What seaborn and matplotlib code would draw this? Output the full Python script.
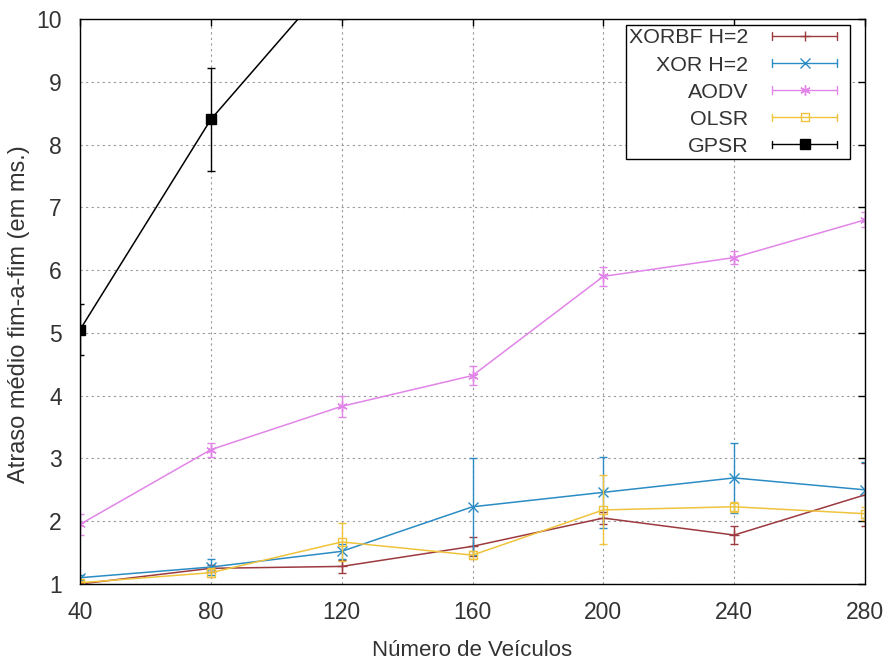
import numpy as np
import pandas as pd
import matplotlib
matplotlib.use("Agg")
import matplotlib.pyplot as plt
from matplotlib.lines import Line2D
from matplotlib.legend_handler import HandlerBase
import seaborn as sns

# Number of vehicles (x axis)
veiculos = [40, 80, 120, 160, 200, 240, 280]

# Mean end-to-end delay (ms) and error-bar half widths per protocol
xorbf = [1.00, 1.25, 1.28, 1.60, 2.05, 1.78, 2.42]
xorbf_err = [0.03, 0.06, 0.10, 0.15, 0.10, 0.14, 0.50]

xor = [1.10, 1.27, 1.52, 2.23, 2.46, 2.69, 2.50]
xor_err = [0.04, 0.13, 0.12, 0.77, 0.57, 0.56, 0.45]

aodv = [1.95, 3.14, 3.83, 4.32, 5.90, 6.20, 6.80]
aodv_err = [0.17, 0.11, 0.17, 0.15, 0.15, 0.10, 0.12]

olsr = [1.02, 1.18, 1.67, 1.46, 2.18, 2.23, 2.12]
olsr_err = [0.03, 0.07, 0.30, 0.06, 0.55, 0.08, 0.10]

gpsr = [5.05, 8.40, 10.80, np.nan, np.nan, np.nan, np.nan]
gpsr_err = [0.41, 0.82, 0.80, np.nan, np.nan, np.nan, np.nan]

labels = ["XORBF H=2", "XOR H=2", "AODV", "OLSR", "GPSR"]
colors = ["#9c3a3f", "#2b8cc4", "#e185e8", "#f0c33c", "#000000"]

series = [
    (xorbf, xorbf_err, dict(marker="+", ms=7, mew=1.0)),
    (xor, xor_err, dict(marker="x", ms=6.5, mew=1.0)),
    (aodv, aodv_err, dict(marker=(6, 2, 0), ms=7.5, mew=1.0)),
    (olsr, olsr_err, dict(marker="s", ms=6, mew=1.0, mfc="none")),
    (gpsr, gpsr_err, dict(marker="s", ms=6.5, mew=1.0)),
]

sns.set_theme(style="white")
plt.rcParams["font.family"] = ["Liberation Sans", "DejaVu Sans"]
text_color = "#333333"

fig = plt.figure(figsize=(8.83, 6.68), dpi=100)
ax = fig.add_axes([80 / 883, 1 - 584 / 668, 785 / 883, 565 / 668])

for (vals, errs, mk), label, color in zip(series, labels, colors):
    df = pd.DataFrame({"veiculos": veiculos, "atraso": vals, "erro": errs}).dropna()
    sns.lineplot(data=df, x="veiculos", y="atraso", ax=ax, color=color,
                 linewidth=1.1, errorbar=None, sort=False, legend=False,
                 mec=color, **mk)
    ax.errorbar(df["veiculos"], df["atraso"], yerr=df["erro"], fmt="none",
                ecolor=color, elinewidth=1.0, capsize=2.8, capthick=1.0)


class CappedSample(HandlerBase):
    """Legend sample: horizontal line with end caps and the marker in the middle."""

    def create_artists(self, legend, orig, xdescent, ydescent, width, height,
                       fontsize, trans):
        y = height / 2 - ydescent
        x0 = -xdescent
        x1 = x0 + width * 0.87
        c = orig.get_color()
        cap = height * 0.25
        arts = [Line2D([x0, x1], [y, y], color=c, lw=1.0)]
        for xx in (x0, x1):
            arts.append(Line2D([xx, xx], [y - cap, y + cap], color=c, lw=1.0))
        arts.append(Line2D([(x0 + x1) / 2], [y], marker=orig.get_marker(),
                           ms=orig.get_markersize(), mew=1.0, mec=c,
                           mfc=orig.get_markerfacecolor(), linestyle="none"))
        for a in arts:
            a.set_transform(trans)
        return arts


handles = []
for (vals, errs, mk), color in zip(series, colors):
    h = Line2D([], [], color=color, marker=mk["marker"], ms=mk["ms"],
               mfc=mk.get("mfc", color))
    handles.append(h)

leg = ax.legend(handles, labels, handler_map={Line2D: CappedSample()},
                loc="upper right", bbox_to_anchor=(0.981, 0.989),
                markerfirst=False, fontsize=15.4, frameon=True, fancybox=False,
                framealpha=1, edgecolor="black", handlelength=3.5,
                handletextpad=1.1, labelspacing=0.38, borderpad=0.15,
                borderaxespad=0)
leg.get_frame().set_linewidth(1.0)
for t in leg.get_texts():
    t.set_color(text_color)

ax.set_xlim(40, 280)
ax.set_ylim(1, 10)
ax.set_xticks(veiculos)
ax.set_yticks(range(1, 11))

ax.grid(True, color="#999999", linestyle=(0, (2, 3)), linewidth=0.8)
ax.set_axisbelow(True)
for s in ax.spines.values():
    s.set_color("black")
    s.set_linewidth(1.0)

ax.tick_params(axis="both", direction="in", length=5, width=1.0,
               top=True, right=True, labelsize=16.5, labelcolor=text_color,
               color="black")
ax.tick_params(axis="x", pad=12)
ax.tick_params(axis="y", pad=13)

ax.set_xlabel("Número de Veículos", fontsize=16, color=text_color, va="center")
ax.set_ylabel("Atraso médio fim-a-fim (em ms.)", fontsize=17,
              color=text_color, va="center")
ax.xaxis.set_label_coords(0.5, (584 - 650) / 565)
ax.yaxis.set_label_coords((19 - 80) / 785, (584 - 314) / 565)

fig.savefig("out.png", dpi=100)
